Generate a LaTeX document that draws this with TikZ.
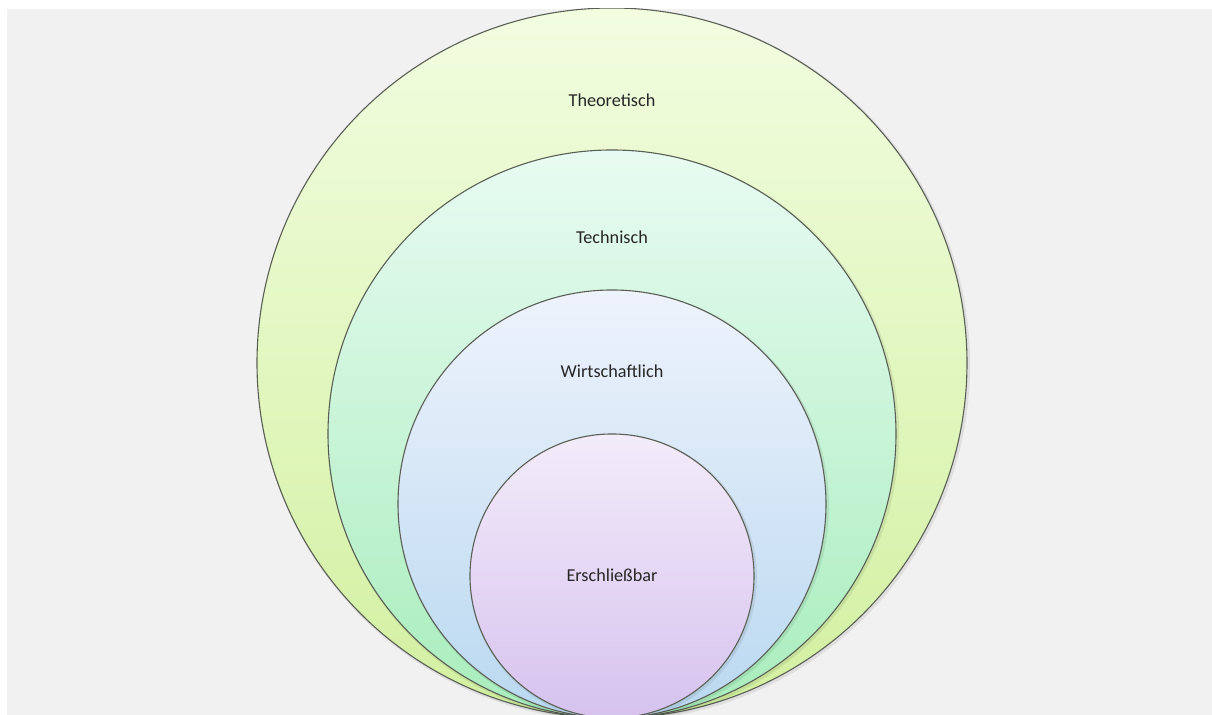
\documentclass[tikz,border=0pt]{standalone}
\usepackage{fontspec}
\setmainfont{Carlito}
\definecolor{bgGray}{HTML}{F1F1F1}
\definecolor{rimGray}{HTML}{5A5F55}
\definecolor{theoTop}{HTML}{F2FDE0}
\definecolor{theoBot}{HTML}{D2F0A0}
\definecolor{techTop}{HTML}{E8FBF2}
\definecolor{techBot}{HTML}{A8EDBC}
\definecolor{wirtTop}{HTML}{EEF3FC}
\definecolor{wirtBot}{HTML}{B9D8F0}
\definecolor{ersTop}{HTML}{F3ECFA}
\definecolor{ersBot}{HTML}{D6C2EE}
\tikzset{
  label text/.style={font=\fontsize{9.1}{11}\selectfont, text=black!85, inner sep=0pt}
}
\begin{document}
\begin{tikzpicture}[x=0.5pt,y=0.5pt]
  \def\cx{612}    % common centre line of the circles
  \def\cbottom{-3} % where all circles touch
  \useasboundingbox (0,0) rectangle (1212,715);
  \fill[white] (0,0) rectangle (1212,715);
  \fill[bgGray] (7,0) rectangle (1212,706);
  \begin{scope}
    \clip (7,0) rectangle (1212,706);
    \foreach \R/\Top/\Bot in {355/theoTop/theoBot, 284/techTop/techBot, 214/wirtTop/wirtBot, 142/ersTop/ersBot}
      {
      \fill[black, opacity=0.07] (\cx + 1.5, \cbottom + \R - 1.5) circle ({\R * 0.5pt + 0.8pt});
      \shade[top color=\Top, bottom color=\Bot, draw=rimGray, line width=0.55pt] (\cx, \cbottom + \R) circle ({\R * 0.5pt});
      }
  \end{scope}
  % labels
  \node[label text] (theo) at (\cx, 615) {Theoretisch};
  \node[label text] (tech) at (\cx, 478) {Technisch};
  \node[label text] (wirt) at (\cx, 344) {Wirtschaftlich};
  \node[label text] (ers)  at (\cx, 140) {Erschließbar};
\end{tikzpicture}
\end{document}
